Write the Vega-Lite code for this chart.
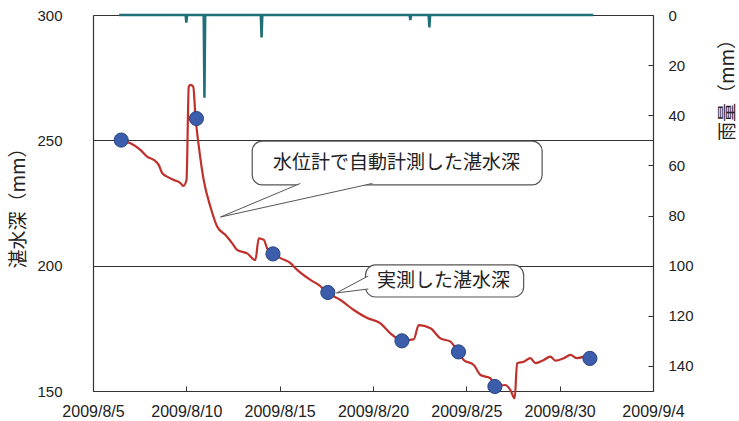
{
  "$schema": "https://vega.github.io/schema/vega-lite/v6.json",
  "width": 560,
  "height": 376,
  "autosize": "none",
  "padding": {"left": 93, "top": 15, "right": 86, "bottom": 30},
  "background": "white",
  "config": {
    "view": {"stroke": null},
    "axis": {"labelFont": "Liberation Sans", "titleFont": "Noto Sans CJK JP", "labelColor": "#222", "titleColor": "#222", "titleFontWeight": "normal", "labelOverlap": false}
  },
  "datasets": {
    "depth": [
      {"t": "2009-08-06T12:14", "mm": 250.1},
      {"t": "2009-08-07T00:14", "mm": 248.8},
      {"t": "2009-08-07T12:58", "mm": 246.2},
      {"t": "2009-08-07T21:36", "mm": 243.5},
      {"t": "2009-08-08T06:14", "mm": 242.2},
      {"t": "2009-08-08T12:29", "mm": 240.2},
      {"t": "2009-08-08T17:02", "mm": 236.9},
      {"t": "2009-08-08T23:17", "mm": 235.5},
      {"t": "2009-08-09T07:55", "mm": 234.2},
      {"t": "2009-08-09T16:34", "mm": 232.9},
      {"t": "2009-08-09T19:55", "mm": 231.8},
      {"t": "2009-08-10T00:14", "mm": 234.2},
      {"t": "2009-08-10T03:07", "mm": 271.4},
      {"t": "2009-08-10T05:17", "mm": 272.1},
      {"t": "2009-08-10T08:53", "mm": 271.4},
      {"t": "2009-08-10T11:46", "mm": 259.4},
      {"t": "2009-08-10T16:05", "mm": 247.5},
      {"t": "2009-08-10T22:19", "mm": 234.2},
      {"t": "2009-08-11T06:58", "mm": 223.5},
      {"t": "2009-08-11T15:36", "mm": 215.6},
      {"t": "2009-08-12T02:24", "mm": 212.2},
      {"t": "2009-08-12T11:02", "mm": 208.9},
      {"t": "2009-08-12T17:17", "mm": 206.3},
      {"t": "2009-08-13T06:14", "mm": 204.9},
      {"t": "2009-08-13T16:48", "mm": 202.3},
      {"t": "2009-08-13T21:07", "mm": 210.9},
      {"t": "2009-08-14T03:36", "mm": 210.3},
      {"t": "2009-08-14T07:55", "mm": 206.9},
      {"t": "2009-08-14T15:22", "mm": 204.7},
      {"t": "2009-08-15T00:58", "mm": 203.0},
      {"t": "2009-08-15T13:55", "mm": 201.0},
      {"t": "2009-08-15T22:34", "mm": 198.3},
      {"t": "2009-08-16T15:36", "mm": 194.3},
      {"t": "2009-08-17T02:10", "mm": 192.3},
      {"t": "2009-08-17T14:24", "mm": 189.0},
      {"t": "2009-08-18T06:14", "mm": 186.3},
      {"t": "2009-08-18T23:17", "mm": 182.3},
      {"t": "2009-08-19T16:34", "mm": 179.1},
      {"t": "2009-08-20T09:36", "mm": 177.0},
      {"t": "2009-08-20T22:19", "mm": 173.0},
      {"t": "2009-08-21T13:26", "mm": 170.2},
      {"t": "2009-08-22T04:19", "mm": 170.6},
      {"t": "2009-08-22T10:48", "mm": 176.3},
      {"t": "2009-08-23T01:55", "mm": 175.0},
      {"t": "2009-08-23T14:38", "mm": 171.0},
      {"t": "2009-08-24T03:36", "mm": 169.7},
      {"t": "2009-08-24T13:12", "mm": 165.6},
      {"t": "2009-08-24T20:38", "mm": 162.4},
      {"t": "2009-08-25T09:36", "mm": 160.4},
      {"t": "2009-08-25T18:14", "mm": 156.4},
      {"t": "2009-08-26T06:58", "mm": 155.1},
      {"t": "2009-08-26T13:26", "mm": 152.0},
      {"t": "2009-08-27T02:10", "mm": 152.4},
      {"t": "2009-08-27T08:38", "mm": 150.4},
      {"t": "2009-08-27T14:10", "mm": 147.1},
      {"t": "2009-08-27T17:17", "mm": 161.1},
      {"t": "2009-08-28T01:41", "mm": 161.7},
      {"t": "2009-08-28T10:19", "mm": 163.1},
      {"t": "2009-08-28T16:48", "mm": 161.1},
      {"t": "2009-08-29T03:36", "mm": 162.4},
      {"t": "2009-08-29T12:00", "mm": 163.7},
      {"t": "2009-08-29T18:29", "mm": 162.1},
      {"t": "2009-08-30T05:17", "mm": 163.1},
      {"t": "2009-08-30T13:55", "mm": 164.4},
      {"t": "2009-08-30T22:19", "mm": 163.1},
      {"t": "2009-08-31T06:58", "mm": 163.7}
    ],
    "measured": [
      {"t": "2009-08-06T12:14", "mm": 250.1},
      {"t": "2009-08-10T12:58", "mm": 258.7},
      {"t": "2009-08-14T15:22", "mm": 204.7},
      {"t": "2009-08-17T13:55", "mm": 189.3},
      {"t": "2009-08-21T13:12", "mm": 170.0},
      {"t": "2009-08-24T13:55", "mm": 165.6},
      {"t": "2009-08-26T12:43", "mm": 151.8},
      {"t": "2009-08-31T14:53", "mm": 163.0}
    ],
    "rain": [
      {"t": "2009-08-06T09:36", "rain": 0},
      {"t": "2009-08-09T23:02", "rain": 0},
      {"t": "2009-08-10T00:00", "rain": 3},
      {"t": "2009-08-10T00:58", "rain": 0},
      {"t": "2009-08-10T22:19", "rain": 0},
      {"t": "2009-08-10T23:17", "rain": 33},
      {"t": "2009-08-11T00:14", "rain": 0},
      {"t": "2009-08-13T23:46", "rain": 0},
      {"t": "2009-08-14T00:43", "rain": 9},
      {"t": "2009-08-14T01:41", "rain": 0},
      {"t": "2009-08-21T23:02", "rain": 0},
      {"t": "2009-08-22T00:00", "rain": 2},
      {"t": "2009-08-22T00:58", "rain": 0},
      {"t": "2009-08-22T23:31", "rain": 0},
      {"t": "2009-08-23T00:29", "rain": 5},
      {"t": "2009-08-23T01:26", "rain": 0},
      {"t": "2009-08-31T19:12", "rain": 0}
    ],
    "boxes": [
      {"t": "2009-08-13T12:43", "t2": "2009-08-29T01:26", "mm": 249.7, "mm2": 232.2},
      {"t": "2009-08-19T14:24", "t2": "2009-08-28T01:41", "mm": 200.3, "mm2": 187.5}
    ],
    "pointers": [
      {"id": 1, "k": 1, "t": "2009-08-16T02:38", "mm": 232.8},
      {"id": 1, "k": 2, "t": "2009-08-11T19:55", "mm": 219.4},
      {"id": 1, "k": 3, "t": "2009-08-19T23:17", "mm": 232.8},
      {"id": 2, "k": 1, "t": "2009-08-19T18:00", "mm": 195.9},
      {"id": 2, "k": 2, "t": "2009-08-18T00:58", "mm": 189.1},
      {"id": 2, "k": 3, "t": "2009-08-19T18:00", "mm": 190.7}
    ],
    "labels": [
      {"t": "2009-08-21T06:14", "mm": 241.0, "text": "水位計で自動計測した湛水深"},
      {"t": "2009-08-23T18:29", "mm": 193.9, "text": "実測した湛水深"}
    ]
  },
  "layer": [
    {
      "layer": [
        {
          "data": {"name": "depth"},
          "mark": {"type": "line", "color": "#c0302b", "strokeWidth": 2.2, "interpolate": "monotone"},
          "encoding": {
            "x": {
              "field": "t", "type": "temporal",
              "scale": {"domain": [{"year": 2009, "month": 8, "date": 5}, {"year": 2009, "month": 9, "date": 4}]},
              "axis": {
                "title": null,
                "values": [
                  {"year": 2009, "month": 8, "date": 5},
                  {"year": 2009, "month": 8, "date": 10},
                  {"year": 2009, "month": 8, "date": 15},
                  {"year": 2009, "month": 8, "date": 20},
                  {"year": 2009, "month": 8, "date": 25},
                  {"year": 2009, "month": 8, "date": 30},
                  {"year": 2009, "month": 9, "date": 4}
                ],
                "format": "%Y/%-m/%-d",
                "labelFontSize": 16,
                "tickSize": -5,
                "tickColor": "#333",
                "domainColor": "#333",
                "domainWidth": 1.2,
                "labelPadding": 17,
                "grid": false,
                "labelFlush": false
              }
            },
            "y": {
              "field": "mm", "type": "quantitative",
              "scale": {"domain": [150, 300], "nice": false, "zero": false},
              "axis": {
                "title": "湛水深（mm）",
                "values": [150, 200, 250, 300],
                "grid": true,
                "gridColor": "#333",
                "gridWidth": 1,
                "ticks": false,
                "domainColor": "#333",
                "domainWidth": 1.2,
                "labelFontSize": 15,
                "labelPadding": 31,
                "titleFontSize": 19,
                "titleColor": "#222",
                "titleAngle": 270,
                "titleX": -75,
                "titleY": 188,
                "titleAlign": "center",
                "titleBaseline": "middle"
              }
            }
          }
        },
        {
          "data": {"name": "measured"},
          "mark": {"type": "circle", "size": 200, "color": "#3b5dab", "opacity": 1, "stroke": "#27437f", "strokeWidth": 1},
          "encoding": {
            "x": {"field": "t", "type": "temporal"},
            "y": {"field": "mm", "type": "quantitative"}
          }
        },
        {
          "data": {"name": "boxes"},
          "mark": {"type": "rect", "fill": "white", "stroke": "#555", "strokeWidth": 1.2, "cornerRadius": 10},
          "encoding": {
            "x": {"field": "t", "type": "temporal"},
            "x2": {"field": "t2"},
            "y": {"field": "mm", "type": "quantitative"},
            "y2": {"field": "mm2"}
          }
        },
        {
          "data": {"name": "pointers"},
          "mark": {"type": "line", "fill": "white", "stroke": "#555", "strokeWidth": 1},
          "encoding": {
            "x": {"field": "t", "type": "temporal"},
            "y": {"field": "mm", "type": "quantitative"},
            "detail": {"field": "id"},
            "order": {"field": "k"}
          }
        },
        {
          "data": {"name": "labels"},
          "mark": {"type": "text", "font": "Noto Sans CJK JP", "fontSize": 19, "color": "#222", "align": "center", "baseline": "middle"},
          "encoding": {
            "x": {"field": "t", "type": "temporal"},
            "y": {"field": "mm", "type": "quantitative"},
            "text": {"field": "text"}
          }
        }
      ]
    },
    {
      "data": {"name": "rain"},
      "mark": {"type": "line", "color": "#1f6f78", "strokeWidth": 2.5},
      "encoding": {
        "x": {"field": "t", "type": "temporal"},
        "y": {
          "field": "rain", "type": "quantitative",
          "scale": {"domain": [0, 150], "reverse": true, "nice": false},
          "axis": {
            "orient": "right",
            "title": "雨量（mm）",
            "values": [0, 20, 40, 60, 80, 100, 120, 140],
            "tickSize": -5,
            "tickColor": "#333",
            "labelFontSize": 15,
            "labelPadding": 20,
            "domainColor": "#333",
            "domainWidth": 1.2,
            "grid": false,
            "titleFontSize": 19,
            "titleColor": "#222",
            "titleAngle": 270,
            "titleX": 74,
            "titleY": 70,
            "titleAlign": "center",
            "titleBaseline": "middle"
          }
        }
      }
    }
  ],
  "resolve": {"scale": {"y": "independent"}}
}
